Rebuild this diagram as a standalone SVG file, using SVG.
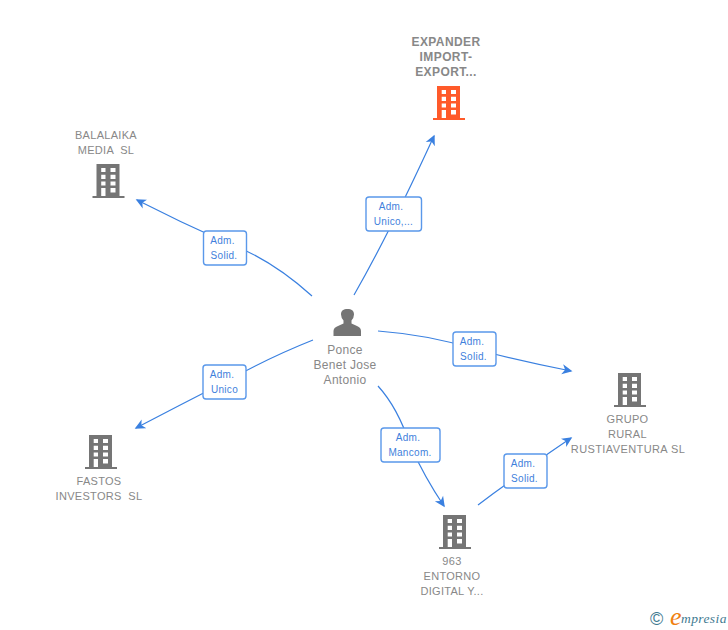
<svg xmlns="http://www.w3.org/2000/svg" width="728" height="630" viewBox="0 0 728 630">
<style>
text{font-family:"Liberation Sans",Arial,sans-serif}
.n{font-size:11px;fill:#888;text-anchor:middle;letter-spacing:.3px;white-space:pre}
.b{font-weight:bold;font-size:12px;letter-spacing:.4px}
.p{font-size:12px;letter-spacing:.3px}
.c{fill:none;stroke:#3a80e0;stroke-width:1.2}
.lb{fill:#fff;stroke:#5a98ea;stroke-width:1.4}
.lt{font-size:10px;fill:#3f7fdc;text-anchor:middle;letter-spacing:.3px}
</style>
<defs>
<marker id="a" markerUnits="userSpaceOnUse" markerWidth="12" markerHeight="12" refX="9" refY="6" orient="auto" viewBox="0 0 12 12"><path d="M0 1L10.500 6L0 11L3 6Z" fill="#3a80e0"/></marker>
<g id="bld">
<path fill-rule="evenodd" d="M4 0H27V32H32V34H0V32H4ZM8.700 4V8H13V4ZM18 4V8H23V4ZM8.700 10.700V15H13V10.700ZM18 10.700V15H23V10.700ZM8.700 17.500V21.500H13V17.500ZM18 17.500V21.500H23V17.500ZM8.700 24V32H13V24ZM18 24V28.500H23V24Z"/>
</g>
</defs>
<rect width="728" height="630" fill="#fff"/>
<g id="connectors">
<path class="c" marker-end="url(#a)" d="M354 295Q390 232 434 136"/>
<path class="c" marker-end="url(#a)" d="M312 296Q270 258 225 242Q180 222 137 200"/>
<path class="c" marker-end="url(#a)" d="M378 331Q430 335 474 349Q525 362 571 371"/>
<path class="c" marker-end="url(#a)" d="M313 340Q270 357 225 382Q180 405 136 428"/>
<path class="c" marker-end="url(#a)" d="M378 386Q398 408 410 445Q425 478 444 506"/>
<path class="c" marker-end="url(#a)" d="M478 505Q500 488 525 471Q548 453 571 438"/>
</g>
<g id="label-expander"><rect class="lb" x="366" y="197" width="55.500" height="34" rx="3"/><text class="lt" x="391" y="210">Adm.</text><text class="lt" x="393.500" y="225">Unico,...</text></g>
<g id="label-balalaika"><rect class="lb" x="203.500" y="231" width="43" height="34" rx="3"/><text class="lt" x="222.500" y="244">Adm.</text><text class="lt" x="224" y="259">Solid.</text></g>
<g id="label-grupo"><rect class="lb" x="453" y="332" width="43" height="34" rx="3"/><text class="lt" x="472" y="345">Adm.</text><text class="lt" x="473.500" y="360">Solid.</text></g>
<g id="label-fastos"><rect class="lb" x="203" y="365" width="43" height="34" rx="3"/><text class="lt" x="222" y="378">Adm.</text><text class="lt" x="224.500" y="393">Unico</text></g>
<g id="label-963"><rect class="lb" x="381" y="428" width="59" height="34" rx="3"/><text class="lt" x="408" y="441">Adm.</text><text class="lt" x="410" y="456">Mancom.</text></g>
<g id="label-963-grupo"><rect class="lb" x="504" y="454" width="43" height="34" rx="3"/><text class="lt" x="523" y="467">Adm.</text><text class="lt" x="524.500" y="482">Solid.</text></g>
<g id="node-expander">
<text class="n b" x="446" y="46">EXPANDER</text><text class="n b" x="446" y="61">IMPORT-</text><text class="n b" x="446" y="76">EXPORT...</text>
<use href="#bld" x="433" y="86" fill="#ff5a2a"/>
</g>
<g id="node-balalaika">
<text class="n" x="106" y="139">BALALAIKA</text><text class="n" x="106" y="154">MEDIA  SL</text>
<use href="#bld" x="92.500" y="164" fill="#757575"/>
</g>
<g id="node-ponce">
<path fill="#757575" d="M333.500 336V331Q333.500 327.500 338 326L343.500 323.500V320.500Q341 317.500 341 314.500C341 310.500 343.500 309 347.500 309S354 310.500 354 314.500Q354 317.500 351.500 320.500V323.500L357 326Q361 327.500 361 331V336Z"/>
<text class="n p" x="345" y="354">Ponce</text><text class="n p" x="345" y="369">Benet Jose</text><text class="n p" x="345" y="384">Antonio</text>
</g>
<g id="node-grupo">
<use href="#bld" x="614" y="373" fill="#757575"/>
<text class="n" x="627.500" y="423">GRUPO</text><text class="n" x="627.500" y="438">RURAL</text><text class="n" x="628" y="453" style="letter-spacing:.4px">RUSTIAVENTURA SL</text>
</g>
<g id="node-fastos">
<use href="#bld" x="85" y="435" fill="#757575"/>
<text class="n" x="99" y="485">FASTOS</text><text class="n" x="99" y="500">INVESTORS  SL</text>
</g>
<g id="node-963">
<use href="#bld" x="439" y="515" fill="#757575"/>
<text class="n" x="452" y="565">963</text><text class="n" x="452" y="580">ENTORNO</text><text class="n" x="452" y="595">DIGITAL Y...</text>
</g>
<g id="logo">
<text x="650" y="625" font-size="18" fill="#3f7a90">©</text>
<text x="670" y="625" font-size="26" font-style="italic" fill="#f08010" style="font-family:'Liberation Serif',serif">e</text>
<text x="681" y="623" font-size="13.500" font-style="italic" fill="#3f7a90" letter-spacing=".4" style="font-family:'Liberation Serif',serif">mpresia</text>
</g>
</svg>
